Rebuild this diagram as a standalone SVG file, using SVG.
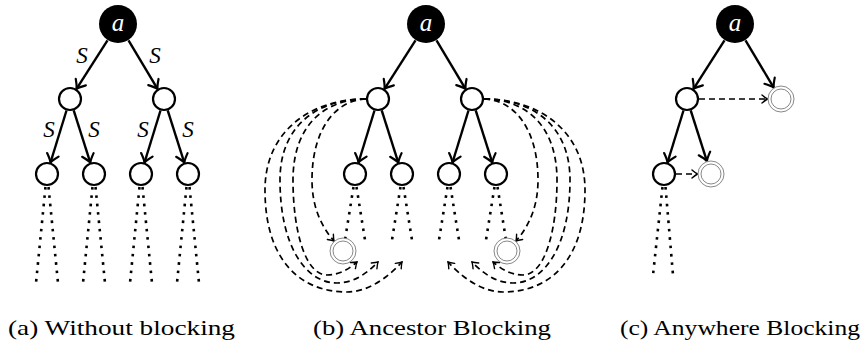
<svg xmlns="http://www.w3.org/2000/svg" width="862" height="344" viewBox="0 0 862 344">
<style>
.n{fill:#fff;stroke:#000;stroke-width:2.2}
.root{fill:#000}
.dbl{fill:#fff;stroke:#888;stroke-width:1}
.e{fill:none;stroke:#000;stroke-width:2.4;marker-end:url(#ah)}
.d{fill:none;stroke:#000;stroke-width:1.7;stroke-dasharray:6 4;marker-end:url(#ahs)}
.dot{fill:none;stroke:#000;stroke-width:2.6;stroke-dasharray:2.6 5.8}
</style>
<defs>
<marker id="ah" viewBox="-10 -8 12 16" refX="0" refY="0" markerWidth="12" markerHeight="16" markerUnits="userSpaceOnUse" orient="auto">
<path d="M -8 -6 Q -2.8 -1.3 0 0 Q -2.8 1.3 -8 6" fill="none" stroke="#000" stroke-width="2.2" stroke-linecap="round"/>
</marker>
<marker id="ahs" viewBox="-7 -5 8 10" refX="0" refY="0" markerWidth="8" markerHeight="10" markerUnits="userSpaceOnUse" orient="auto">
<path d="M -5.5 -4 Q -1.8 -0.9 0 0 Q -1.8 0.9 -5.5 4" fill="none" stroke="#000" stroke-width="1.4" stroke-linecap="round"/>
</marker>
</defs>

<!-- Panel (a) -->
<g id="panel-a">
<g id="connectors-a">
<line class="e" x1="107.5" y1="40.4" x2="76.5" y2="88.9"/>
<line class="e" x1="128.5" y1="40.4" x2="157.5" y2="88.9"/>
<line class="e" x1="66.5" y1="110.5" x2="50.5" y2="162.5"/>
<line class="e" x1="73.7" y1="110.4" x2="90.3" y2="162.6"/>
<line class="e" x1="160.5" y1="110.5" x2="144.5" y2="162.5"/>
<line class="e" x1="167.7" y1="110.4" x2="184.3" y2="162.6"/>
<line class="dot" x1="45.5" y1="187" x2="36" y2="283"/>
<line class="dot" x1="48.5" y1="187" x2="58" y2="283"/>
<line class="dot" x1="92.5" y1="187" x2="83" y2="283"/>
<line class="dot" x1="95.5" y1="187" x2="105" y2="283"/>
<line class="dot" x1="139.5" y1="187" x2="130" y2="283"/>
<line class="dot" x1="142.5" y1="187" x2="152" y2="283"/>
<line class="dot" x1="186.5" y1="187" x2="177" y2="283"/>
<line class="dot" x1="189.5" y1="187" x2="199" y2="283"/>
<g font-family="Liberation Serif, serif" font-style="italic" font-size="23" text-anchor="middle">
<text x="82" y="63">S</text>
<text x="155" y="63">S</text>
<text x="49" y="137">S</text>
<text x="94" y="137">S</text>
<text x="143" y="137">S</text>
<text x="188" y="137">S</text>
</g>
</g>
<g id="a-root"><circle class="root" cx="118" cy="24" r="19"/><text x="118" y="31" font-family="Liberation Serif, serif" font-style="italic" font-size="25" text-anchor="middle" fill="#fff">a</text></g>
<g id="a-n1"><circle class="n" cx="70" cy="99" r="11"/></g>
<g id="a-n2"><circle class="n" cx="164" cy="99" r="11"/></g>
<g id="a-n3"><circle class="n" cx="47" cy="174" r="11"/></g>
<g id="a-n4"><circle class="n" cx="94" cy="174" r="11"/></g>
<g id="a-n5"><circle class="n" cx="141" cy="174" r="11"/></g>
<g id="a-n6"><circle class="n" cx="188" cy="174" r="11"/></g>
</g>

<!-- Panel (b) -->
<g id="panel-b" transform="translate(308,0)">
<g id="connectors-b">
<line class="e" x1="107.5" y1="40.4" x2="76.5" y2="88.9"/>
<line class="e" x1="128.5" y1="40.4" x2="157.5" y2="88.9"/>
<line class="e" x1="66.5" y1="110.5" x2="50.5" y2="162.5"/>
<line class="e" x1="73.7" y1="110.4" x2="90.3" y2="162.6"/>
<line class="e" x1="160.5" y1="110.5" x2="144.5" y2="162.5"/>
<line class="e" x1="167.7" y1="110.4" x2="184.3" y2="162.6"/>
<line class="dot" x1="45.5" y1="187" x2="37" y2="240"/>
<line class="dot" x1="48.5" y1="187" x2="57" y2="240"/>
<line class="dot" x1="92.5" y1="187" x2="84" y2="240"/>
<line class="dot" x1="95.5" y1="187" x2="104" y2="240"/>
<line class="dot" x1="139.5" y1="187" x2="131" y2="240"/>
<line class="dot" x1="142.5" y1="187" x2="151" y2="240"/>
<line class="dot" x1="186.5" y1="187" x2="178" y2="240"/>
<line class="dot" x1="189.5" y1="187" x2="198" y2="240"/>
<g id="arcs-left">
<path class="d" d="M 58 99 C 27 100, 4 130, 4 180 C 4 205, 12 225, 26 241"/>
<path class="d" d="M 58 99 C 17 99, -15 125, -15 180 C -15 230, -3 275, 19 275 C 32 275, 42 268, 49 262"/>
<path class="d" d="M 58 99 C 10 99, -28 125, -28 180 C -28 245, -3 283, 29 283 C 47 283, 60 272, 70 262"/>
<path class="d" d="M 58 99 C 4 99, -43 130, -43 190 C -43 260, -8 292, 39 292 C 62 292, 82 275, 94 262"/>
</g>
<g id="arcs-right" transform="translate(234,0) scale(-1,1)">
<path class="d" d="M 58 99 C 27 100, 4 130, 4 180 C 4 205, 12 225, 26 241"/>
<path class="d" d="M 58 99 C 17 99, -15 125, -15 180 C -15 230, -3 275, 19 275 C 32 275, 42 268, 49 262"/>
<path class="d" d="M 58 99 C 10 99, -28 125, -28 180 C -28 245, -3 283, 29 283 C 47 283, 60 272, 70 262"/>
<path class="d" d="M 58 99 C 4 99, -43 130, -43 190 C -43 260, -8 292, 39 292 C 62 292, 82 275, 94 262"/>
</g>
</g>
<g id="b-root"><circle class="root" cx="118" cy="24" r="19"/><text x="118" y="31" font-family="Liberation Serif, serif" font-style="italic" font-size="25" text-anchor="middle" fill="#fff">a</text></g>
<g id="b-n1"><circle class="n" cx="70" cy="99" r="11"/></g>
<g id="b-n2"><circle class="n" cx="164" cy="99" r="11"/></g>
<g id="b-n3"><circle class="n" cx="47" cy="174" r="11"/></g>
<g id="b-n4"><circle class="n" cx="94" cy="174" r="11"/></g>
<g id="b-n5"><circle class="n" cx="141" cy="174" r="11"/></g>
<g id="b-n6"><circle class="n" cx="188" cy="174" r="11"/></g>
<g id="b-blk1"><circle class="dbl" cx="35" cy="251" r="13"/><circle class="dbl" cx="35" cy="251" r="10"/></g>
<g id="b-blk2"><circle class="dbl" cx="199" cy="251" r="13"/><circle class="dbl" cx="199" cy="251" r="10"/></g>
</g>

<!-- Panel (c) -->
<g id="panel-c" transform="translate(617,0)">
<g id="connectors-c">
<line class="e" x1="107.5" y1="40.4" x2="76.5" y2="88.9"/>
<line class="e" x1="128.5" y1="40.4" x2="156.7" y2="87.6"/>
<line class="e" x1="66.5" y1="110.5" x2="50.5" y2="162.5"/>
<line class="e" x1="73.7" y1="110.4" x2="89.9" y2="161.1"/>
<line class="d" x1="82" y1="99" x2="150.5" y2="99"/>
<line class="d" x1="59" y1="174" x2="80.5" y2="174"/>
<line class="dot" x1="45.5" y1="187" x2="36" y2="275"/>
<line class="dot" x1="48.5" y1="187" x2="56" y2="275"/>
</g>
<g id="c-root"><circle class="root" cx="118" cy="24" r="19"/><text x="118" y="31" font-family="Liberation Serif, serif" font-style="italic" font-size="25" text-anchor="middle" fill="#fff">a</text></g>
<g id="c-n1"><circle class="n" cx="70" cy="99" r="11"/></g>
<g id="c-blk1"><circle class="dbl" cx="164" cy="99" r="13"/><circle class="dbl" cx="164" cy="99" r="10"/></g>
<g id="c-n3"><circle class="n" cx="47" cy="174" r="11"/></g>
<g id="c-blk2"><circle class="dbl" cx="94" cy="174" r="13"/><circle class="dbl" cx="94" cy="174" r="10"/></g>
</g>

<g id="captions" font-family="Liberation Serif, serif" font-size="22">
<text x="8" y="335" textLength="227" lengthAdjust="spacingAndGlyphs">(a) Without blocking</text>
<text x="313" y="335" textLength="238" lengthAdjust="spacingAndGlyphs">(b) Ancestor Blocking</text>
<text x="620" y="335" textLength="240" lengthAdjust="spacingAndGlyphs">(c) Anywhere Blocking</text>
</g>
</svg>
